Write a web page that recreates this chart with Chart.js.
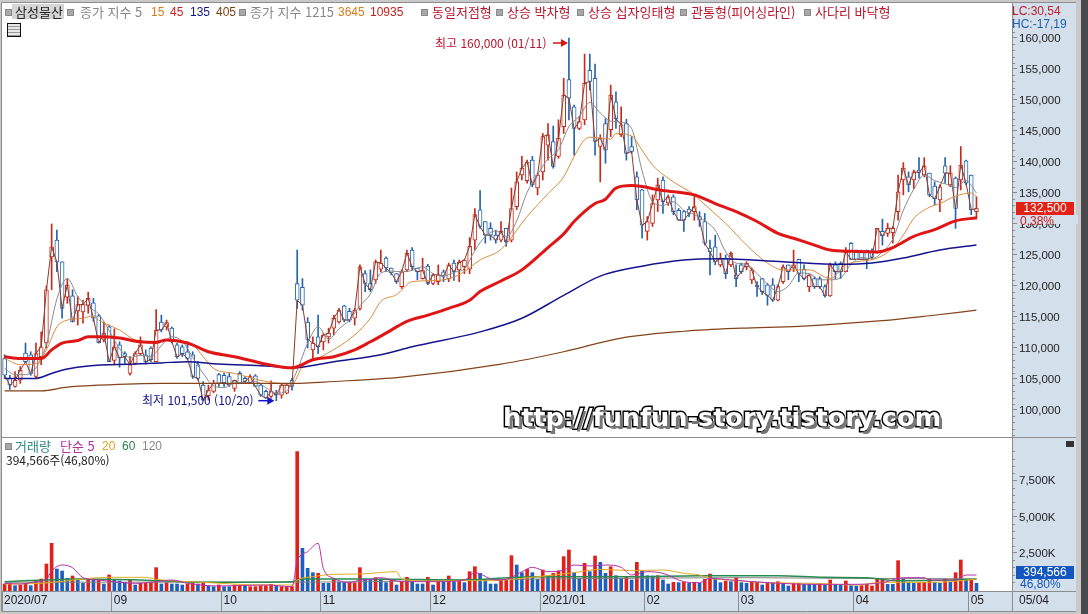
<!DOCTYPE html>
<html lang="ko">
<head>
<meta charset="utf-8">
<title>삼성물산 일봉</title>
<script src="https://cdn.jsdelivr.net/npm/chart.js@4"></script>
<style>
  html, body { margin: 0; padding: 0; width: 1088px; height: 614px; overflow: hidden; background: #c9c9c9; }
  #stage { position: relative; width: 1088px; height: 614px; font: 13px "Noto Sans CJK KR", "Liberation Sans", sans-serif; }
  #stage canvas { position: absolute; left: 0; top: 0; }
  .edge { position: absolute; left: 1081px; top: 0; width: 7px; height: 614px; background: #47494c; }
  .t { position: absolute; white-space: pre; line-height: 14px; height: 14px; }
  .n { font: 12px/14px "Liberation Sans", sans-serif; }
  .sq { position: absolute; width: 5px; height: 5px; background: #a8a8a8; border: 1px solid #8a8a8a; }
  .tag { position: absolute; left: 1016px; width: 58px; height: 13px; line-height: 13px; color: #fff; text-align: center; font: 12px/13px "Liberation Sans", sans-serif; }
  .mark { position: absolute; left: 503px; top: 402px; white-space: pre; font: bold 25.5px "DejaVu Sans", sans-serif; color: #fff;
          -webkit-text-stroke: 3px #000; paint-order: stroke fill; text-shadow: 3px 3px 0 #777; }
  .icon { position: absolute; left: 7px; top: 23px; width: 12px; height: 12px; border: 1px solid #111; background:
          repeating-linear-gradient(0deg, #999 0 1px, #e8e8e8 1px 3px), #ddd; }
  .close { position: absolute; left: 1066px; top: 441px; width: 8px; height: 6px; background: #333; }
</style>
</head>
<body>
<div id="stage">
  <canvas id="chart" width="1088" height="614"></canvas>
  <div class="edge"></div>

  <span class="sq" style="left:5px;top:9px"></span>
  <span class="t" style="left:12px;top:4px;width:52px;height:15px;background:#d6d6d6"></span>
  <span class="t" style="left:15px;top:5px;color:#222">삼성물산</span>
  <span class="sq" style="left:67px;top:9px"></span>
  <span class="t" style="left:80px;top:5px;color:#888">종가 지수 5</span>
  <span class="t n" style="left:151px;top:5px;color:#dd7a18">15</span>
  <span class="t n" style="left:170px;top:5px;color:#c8201e">45</span>
  <span class="t n" style="left:190px;top:5px;color:#14148c">135</span>
  <span class="t n" style="left:216px;top:5px;color:#7d3f12">405</span>
  <span class="sq" style="left:239px;top:9px"></span>
  <span class="t" style="left:250px;top:5px;color:#888">종가 지수 1215</span>
  <span class="t n" style="left:338px;top:5px;color:#dd7a18">3645</span>
  <span class="t n" style="left:370px;top:5px;color:#c8201e">10935</span>
  <span class="sq" style="left:421px;top:9px"></span>
  <span class="t" style="left:432px;top:5px;color:#b8142c">동일저점형</span>
  <span class="sq" style="left:496px;top:9px"></span>
  <span class="t" style="left:507px;top:5px;color:#b8142c">상승 박차형</span>
  <span class="sq" style="left:577px;top:9px"></span>
  <span class="t" style="left:588px;top:5px;color:#b8142c">상승 십자잉태형</span>
  <span class="sq" style="left:680px;top:9px"></span>
  <span class="t" style="left:691px;top:5px;color:#b8142c">관통형(피어싱라인)</span>
  <span class="sq" style="left:804px;top:9px"></span>
  <span class="t" style="left:815px;top:5px;color:#b8142c">사다리 바닥형</span>
  <span class="icon"></span>

  <span class="t" style="left:435px;top:36px;color:#b8142c;font-size:12px">최고 160,000 (01/11)</span>
  <span class="t" style="left:142px;top:393px;color:#14148c;font-size:12px">최저 101,500 (10/20)</span>

  <span class="t n" style="left:1012px;top:4px;color:#c0202c">LC:30,54</span>
  <span class="t n" style="left:1012px;top:17px;color:#2060b0">HC:-17,19</span>

  <span class="sq" style="left:5px;top:443px"></span>
  <span class="t" style="left:15px;top:439px;color:#2e8a80">거래량</span>
  <span class="t" style="left:60px;top:439px;color:#b030a0">단순 5</span>
  <span class="t n" style="left:102px;top:439px;color:#dca620">20</span>
  <span class="t n" style="left:122px;top:439px;color:#2a8050">60</span>
  <span class="t n" style="left:142px;top:439px;color:#888">120</span>
  <span class="t" style="left:6px;top:453px;color:#222;font-size:12px">394,566주(46,80%)</span>
  <span class="close"></span>

  <span class="tag" style="top:202px;background:#e22214">132,500</span>
  <span class="t n" style="left:1020px;top:214px;color:#c8201e">0,38%</span>
  <span class="tag" style="top:566px;background:#1456c0">394,566</span>
  <span class="t n" style="left:1020px;top:577px;color:#1456c0">46,80%</span>
  <span class="t n" style="left:1019px;top:593px;color:#222">05/04</span>

  <span class="mark">http://funfun-story.tistory.com</span>
</div>

<script>
// Daily candles, in thousands of won
const opens = [108.3,105.1,103.8,104.8,109.2,108.9,105.4,108.6,110.8,124.7,127.4,123.9,118.2,118.4,116,115.8,116.9,117.3,115.2,111.3,
  113.4,108,110.5,109.1,105.9,107.5,109.1,108.9,110,107.8,114.2,113.4,113.2,110.5,110.2,109.4,108.9,107.3,104,102.3,
  103,105.7,105.6,105.4,103.5,105.9,105.1,104.4,105.5,104,103,102.2,102.7,102.4,102.7,104.8,120.4,119.8,114.2,109.7,
  111.8,111,111.8,113.2,114.2,116.8,115.9,114.8,116.4,122,120.4,121,122.7,124.5,122.9,122,119.9,122.6,125.8,122.9,
  121.2,123.2,120.4,120.7,122.3,121.2,123.7,122.6,123.1,122.7,127.4,132.3,130.4,129.3,128.2,127.4,129.3,127.4,132.8,137.9,
  137,140.3,135.8,138.4,142.7,143.3,140.9,145.7,153.3,148.9,145.4,146.8,154.8,153.5,142.5,146.2,145.2,149.7,144.4,146.2,
  142.5,137.6,135.5,128.8,130.1,133.9,137.1,133.4,134.4,132.2,132,132.4,132,131.2,130.4,126.1,126.3,123.4,124.5,123.4,
  121.8,123.4,123.1,121,120.1,121.2,120.2,120.2,117.7,120.7,123.4,122.9,124.3,122.7,119.9,121.2,121.2,119.9,118.4,123.4,
  123.6,122.3,126.9,125.5,125.5,125.8,125.5,125.5,128.8,128.5,128.6,132,137.1,137.6,137.1,138.7,137.9,138.2,136.1,133.9,
  139.4,136.3,137.4,137.1,140.2,137.9,132];
const highs = [108.9,105.6,106.2,107,110.8,109.4,110.8,112.6,120,130,129,123.9,121.2,119.4,118.3,117.7,119,118,115.4,114.2,
  113.7,113.1,111,109.4,108.6,109.4,111.8,109.7,110.2,116.2,115.3,114.5,113.4,110.8,110.5,111,109.4,107.8,104.6,104,
  104.8,105.9,105.9,105.9,104.8,106.2,105.4,105.7,105.7,104.3,103.2,104.7,103.2,104.3,104.3,105.1,125.8,121.2,114.9,111.8,
  115.3,112.4,113.2,115.3,116.4,116.9,116.4,116.4,123.4,122.5,122.6,124.2,125.8,124.7,122.9,122,122.6,125.8,126.2,122.9,
  124.5,123.5,122,123.4,122.6,123.7,124.2,124.2,124.3,127.8,132.5,135.4,130.4,130.2,129,130.4,129.3,135.8,138.4,140.9,
  140.3,140.9,138.2,144.6,146.2,145.8,146.8,153.5,160,149.2,147.3,157.4,157.4,155.8,144.4,147,152.4,151.3,148.9,146.9,
  144.1,138.4,135.6,131.2,134.7,137.4,137.6,134.7,134.7,132.5,132.2,132.8,134.7,132,131.7,127.4,128.2,125.3,125,125.5,
  123.4,123.7,123.9,122.9,120.7,121.2,120.4,121.2,120.2,123.4,123.4,125.8,124.3,123.4,121.8,121.5,121.5,120.2,123.7,123.9,
  123.9,126.2,127,125.8,125.8,125.8,126,129.3,130.8,130.1,129.6,137.9,139.9,138.4,138.7,140.7,140.7,138.2,136.8,136.3,
  140.7,139.4,137.6,142.5,140.3,137.9,134.4];
const lows = [105.1,103.3,103.7,104.3,107.6,105.6,105.2,107.3,110,119.4,122.3,114.8,117.2,114.2,113.7,114,115.6,114.3,110.8,111,
  107.8,107.3,106.9,107.5,105.6,107.3,108.9,107.4,107.8,107.8,112.6,112.9,110.8,108.3,108.6,108.1,105.1,104.8,101.6,101.6,
  102.8,103.8,103.8,103.8,103,104.3,104.3,104.3,103.8,102.2,101.9,101.9,101.5,101.9,102.6,103.2,116.4,116.1,110,108.1,
  109.1,109.7,110.8,112.1,114,114.2,114.2,113.7,116.1,119.1,119.1,120.4,122.3,122.3,121.8,120.4,119.6,122.3,122.6,121,
  121.1,120.2,120.2,120.2,120.7,120.7,120.9,120.7,122,122,125.8,129.3,126.9,127.4,126.9,127.1,126.4,127.1,132.3,137.1,
  136.6,136,134.7,137.1,140.3,139,140.6,144.6,146.8,141.1,145.2,146,151.6,141.1,136.8,139.8,144.1,145.4,144.1,140.3,
  141.4,132.3,127.7,127.4,129.6,132,131.7,133,131.5,130.6,128.8,131.2,130.6,129.6,126.6,121.8,123.4,123.1,121.2,123.1,
  119.9,122,122.6,120.4,118.3,118.6,116.9,117.5,117.6,120.4,121,122.3,120.7,121,119.1,119.6,119.6,118.2,118.3,121.2,
  121.2,122.3,124.3,124.3,124.3,122.8,124.3,125.3,126.6,128,126.9,130.6,134.7,135.2,135.7,137.4,137.6,134.4,133.1,132,
  136.6,136,129.3,135.5,136.3,131.5,130.8];
const closes = [105.6,104,104.8,106.4,107.8,105.9,109.1,110.2,119.4,126.3,123.9,116.4,120.2,114.2,117,117,118,114.8,110.8,112.4,
  107.8,110.2,108.4,108.6,107.3,109.1,110.5,107.8,108.1,112.9,112.9,114.1,111,108.6,109.1,108.3,105.4,105.1,101.6,103.2,
  104.3,104.3,104.4,104,104.8,104.3,104.6,105.4,103.8,102.4,101.9,103,102.4,104,104,103.8,117.7,116.9,111.4,110.8,
  110.2,112.1,112.4,114.8,116.1,114.5,114.5,116.1,123.1,120.4,119.4,123.9,123.7,122.9,122.1,120.7,122.3,125.3,123.1,122.3,
  122.5,120.4,121.8,121.8,121.6,123.4,122.3,123.8,124.2,126.4,131.5,129.6,128.2,128.2,127.4,128.8,127.1,132.5,136.8,139,
  140,136.3,137.9,144.1,144.4,139.3,143.8,150.8,150.3,145.4,146.5,152.7,153,143.3,143.8,141.9,150.8,147,146,141.4,
  141.7,133.9,129.8,130.4,133.3,136.3,133.6,134.4,132,130.6,130.6,131.7,132.8,130.6,126.9,125.5,123.9,124.5,122,125.3,
  121.2,122.3,123.7,122.6,119.9,119.1,118.5,117.7,119.9,123.1,122.3,123.4,122,121.2,121.8,119.9,119.9,118.4,123.4,122.3,
  122.3,125.5,124.3,124.3,124.3,124.3,124.6,129.3,128.1,129.3,129.3,135.2,139,136.3,138.4,138.3,139.4,134.7,134.1,136,
  138.2,138.2,132.5,139.5,136.6,132.3,132.5];

// Traded volume, in thousands of shares, with its up/down colour code
const volumes = [345,391,230,276,391,230,575,690,1725,3151,1380,1242,736,897,690,391,690,690,621,345,
  966,621,552,460,621,276,391,391,460,1472,345,437,345,345,276,345,437,345,437,207,
  161,276,161,161,276,276,230,161,161,230,230,322,207,161,161,161,9476,2806,1426,1127,
  1081,391,391,690,460,437,437,437,1472,690,667,782,690,437,621,276,460,805,506,345,
  345,805,276,506,506,897,506,575,437,1196,1541,1081,621,345,345,621,621,2300,1656,1127,
  1357,1127,667,1311,897,1081,1242,2231,2691,1127,736,1771,1196,2277,1840,1081,1541,920,736,805,
  621,1840,1242,920,897,920,621,345,460,437,460,391,460,391,667,1035,667,437,552,506,
  782,437,391,460,460,276,437,391,506,322,207,391,391,322,322,322,322,276,621,322,
  276,552,230,207,230,322,207,667,667,322,322,1955,667,437,391,437,460,690,460,391,
  690,460,1127,2001,621,621,394.566];
const volumeDir = ("RRBRRBRRRRBBBRBBRBRBRBBBRBRRRRBRBBBRRBRBBRBBRRBRRRRRBRRRRBBBRBBRBBRRR" +
  "BBRBBRBRRBBBRBRBRBRBRRBBBBRRRBBRBBRBRRRRBBRBRBBRBBRBRBBBRBBRBRBRBRRBBRBRBBRRBRBR" +
  "BBRRBBBRBRBBRBBRRRRRBBRBBBRRRBBRBRRBRB").split("");

// Price averages as [session, thousand won]
const ma5 = [[0,106.7],[2,105.7],[4,105.7],[6,106.8],[8,110.5],[10,117.9],[12,121.2],[14,118.3],[16,116.6],[18,115.5],[20,112.8],[22,109.9],[24,108.5],[26,108.8],[28,108.6],[30,110.4],[32,111.8],[34,111.1],[36,108.5],[38,105.9],[40,103.9],[42,103.6],[44,104.4],[46,104.4],[48,104.6],[50,103.6],[52,102.7],[54,103.1],[56,106.4],[58,110.8],[60,113.4],[62,111.4],[64,113.1],[66,114.5],[68,116.8],[70,118.7],[72,122.1],[74,122.4],[76,122.3],[78,122.5],[80,123.1],[82,122],[84,121.6],[86,122.2],[88,122.8],[90,125.7],[92,128],[94,128.9],[96,127.9],[98,130.5],[100,135.1],[102,138],[104,140.5],[106,142],[108,145.7],[110,147.4],[112,149.6],[114,147.9],[116,146.6],[118,146.4],[120,145.4],[122,138.6],[124,133.6],[126,133],[128,133.6],[130,132.2],[132,131.5],[134,130.5],[136,129],[138,125.5],[140,123.7],[142,123.5],[144,122],[146,120.3],[148,119.1],[150,120],[152,122.1],[154,122],[156,121],[158,121],[160,121.3],[162,123.5],[164,124.6],[166,124.4],[168,125.5],[170,127.6],[172,132.2],[174,135.6],[176,137.9],[178,137],[180,136.5],[182,135.9],[184,137],[186,135]];
const ma15 = [[0,108.3],[3,107.3],[6,107.5],[8,109.7],[10,113.4],[12,114.5],[15,114.8],[17,115.2],[18,114.5],[22,112.9],[25,111.3],[28,111],[31,111.3],[36,110.5],[38,108.6],[40,106.7],[44,105.9],[50,104.6],[55,104.2],[57,107],[60,108.3],[67,112.1],[70,114.8],[72,117.5],[75,118.6],[78,120.7],[83,120.9],[87,121.8],[91,124.2],[95,125.9],[100,131.2],[104,134.9],[107,137.6],[109,140.9],[111,143.6],[112,144],[116,143.7],[117,144.6],[120,144.2],[122,141.9],[124,139.5],[128,136.8],[132,134.7],[133,133.9],[138,130.1],[142,126.6],[146,123.7],[149,122.6],[154,122.6],[158,121.2],[161,123.4],[167,124.5],[170,126.1],[172,128.2],[174,130.9],[177,132.7],[179,133.3],[182,134.5],[185,135],[186,134.4]];
const ma45 = [[0,108.6],[3,108.3],[7,108.3],[9,109.7],[11,110.8],[14,111.2],[16,111.8],[18,111.8],[22,111.6],[26,111],[29,110.9],[31,111.3],[35,110.8],[39,109.4],[44,108.6],[50,107.4],[55,106.8],[59,108.1],[63,108.6],[67,109.7],[70,111],[73,112.4],[77,114.3],[81,115.3],[85,116.4],[89,117.7],[91,119.1],[95,120.8],[99,122.6],[104,126.2],[107,128.4],[109,130.4],[113,133.3],[115,134],[117,135.8],[120,136.2],[126,135.4],[132,134.7],[136,133.3],[140,132],[144,130.4],[148,128.5],[151,127.7],[155,126.6],[158,125.8],[162,125.6],[167,125.5],[170,126.2],[174,128],[178,129.1],[182,130.5],[186,131]];
const ma135 = [[0,105.1],[6,105.1],[9,105.9],[12,106.6],[16,107.1],[25,107.4],[30,107.6],[35,107.8],[41,107.4],[50,107.1],[55,106.8],[63,107.8],[72,108.9],[78,110.2],[91,112.6],[99,114.8],[107,118.5],[114,121.6],[122,123.2],[130,124.2],[137,124.4],[149,123.9],[160,123.5],[166,123.7],[172,124.5],[179,125.8],[186,126.6]];
const ma405 = [[0,103.1],[7,103.1],[12,103.7],[18,104],[30,104.3],[55,104.3],[63,104.6],[76,105.3],[95,107.4],[107,109.4],[118,111.6],[130,112.7],[141,113.2],[152,113.5],[168,114.4],[177,115.2],[186,116.1]];

// Volume averages as [session, thousand shares]
const vol5 = [[0,391],[3,345],[6,506],[8,690],[9,1242],[11,1656],[13,1472],[15,782],[18,621],[25,391],[29,506],[32,621],[35,391],[41,207],[50,276],[55,161],[56,1932],[58,2576],[60,3151],[61,1426],[63,736],[66,437],[68,621],[70,667],[72,782],[76,506],[83,506],[88,621],[90,1127],[94,621],[96,667],[99,1196],[101,1495],[104,1196],[107,1311],[109,1656],[112,1587],[115,1656],[118,1495],[120,966],[123,1196],[126,1081],[130,506],[133,437],[135,736],[139,621],[146,437],[155,322],[162,322],[168,437],[172,782],[176,782],[177,621],[182,621],[184,966],[186,966]];
const vol20 = [[0,345],[7,391],[15,690],[20,805],[27,805],[29,667],[38,460],[50,276],[55,276],[56,621],[59,851],[63,1012],[68,1035],[75,1196],[76,690],[81,552],[88,575],[94,575],[97,667],[104,920],[109,1127],[114,1357],[120,1265],[126,1311],[130,1081],[133,966],[135,736],[139,621],[146,437],[155,391],[163,276],[168,460],[176,460],[181,506],[186,690]];
const vol60 = [[0,506],[15,690],[26,621],[38,460],[55,506],[57,690],[68,690],[75,667],[88,621],[101,851],[120,851],[133,920],[148,920],[157,805],[165,782],[171,575],[186,667]];
const vol120 = [[0,470],[30,470],[60,480],[80,560],[100,680],[120,740],[140,780],[160,740],[186,700]];

// Month boundaries on the time axis
const monthSessions = [0,21,42,61,82,103,123,141,163,185];
const monthLabels = ["2020/07","09","10","11","12","2021/01","02","03","04","05"];

const sessions = closes.map((_, i) => i);
const priceTicks = [100,105,110,115,120,125,130,135,140,145,150,155,160];
const volumeTicks = [2500,5000,7500];

const CANDLE_UP = "#c52a1c", CANDLE_DOWN = "#2464ae";
const toPoints = pairs => pairs.map(([x, y]) => ({ x, y }));

function lineSet(label, pairs, color, width, axis, order) {
  return { type: "line", label, data: toPoints(pairs), yAxisID: axis, borderColor: color, borderWidth: width,
           pointRadius: 0, cubicInterpolationMode: "monotone", order };
}
function barSet(label, data, axis, color, fill, thickness, order, extra) {
  return Object.assign({ type: "bar", label, data, yAxisID: axis, grouped: false, barThickness: thickness,
    backgroundColor: fill, borderColor: color, borderWidth: 0, order }, extra || {});
}

const candleColors = sessions.map(i => closes[i] >= opens[i] ? CANDLE_UP : CANDLE_DOWN);
const volumeColors = sessions.map(i => volumeDir[i] === "R" ? "#e1201a" : "#1c5fbe");

// Panels, separators, minor axis ticks and the two extreme-price arrows
const chrome = {
  id: "chrome",
  beforeDraw(c) {
    const g = c.ctx, a = c.chartArea;
    g.save();
    g.fillStyle = "#c9c9c9"; g.fillRect(0, 0, 1088, 614);
    g.fillStyle = "#ffffff"; g.fillRect(a.left, a.top, a.right - a.left, a.bottom - a.top);
    g.fillStyle = "#d4dfec";
    g.fillRect(a.right, a.top, 1076 - a.right, a.bottom - a.top);
    g.fillRect(a.left, a.bottom, 1076 - a.left, 20);
    g.restore();
  },
  afterDraw(c) {
    const g = c.ctx, a = c.chartArea, x = c.scales.x, yp = c.scales.y, yv = c.scales.yVol;
    g.save();
    g.strokeStyle = "#8d8d8d"; g.lineWidth = 1;
    const rule = (x0, y0, x1, y1) => { g.beginPath(); g.moveTo(x0, y0); g.lineTo(x1, y1); g.stroke(); };
    rule(1.5, a.top, 1.5, a.bottom + 20);
    rule(1.5, yv.top + 0.5, 1076, yv.top + 0.5);
    rule(1.5, a.top - 0.5, 1076, a.top - 0.5);
    rule(a.right + 0.5, a.top, a.right + 0.5, a.bottom + 20);
    rule(1.5, a.bottom + 0.5, 1076, a.bottom + 0.5);
    rule(1.5, a.bottom + 20.5, 1076, a.bottom + 20.5);

    g.strokeStyle = "#8a8a8a";
    for (let v = 96; v <= 165; v++) {
      if (v % 5 === 0) continue;
      const p = Math.round(yp.getPixelForValue(v)) + 0.5;
      rule(a.right, p, a.right + 3, p);
    }
    for (let v = 500; v <= 10000; v += 500) {
      if (v % 2500 === 0) continue;
      const p = Math.round(yv.getPixelForValue(v)) + 0.5;
      rule(a.right, p, a.right + 3, p);
    }

    const arrow = (x0, x1, y, color) => {
      g.strokeStyle = color; g.fillStyle = color; g.lineWidth = 1.5;
      rule(x0, y, x1 - 5, y);
      g.beginPath(); g.moveTo(x1, y); g.lineTo(x1 - 7, y - 4); g.lineTo(x1 - 7, y + 4); g.closePath(); g.fill();
    };
    const hi = Math.max(...highs), lo = Math.min(...lows);
    const hx = x.getPixelForValue(highs.indexOf(hi)), lx = x.getPixelForValue(lows.indexOf(lo));
    arrow(hx - 16, hx - 1, yp.getPixelForValue(hi) + 5, "#d21818");
    arrow(lx - 18, lx - 2, yp.getPixelForValue(lo), "#1414c8");

    // clears the axis behind the percentage under the price tag
    g.fillStyle = "#d4dfec"; g.fillRect(a.right + 6, 215, 60, 9);
    g.restore();
  }
};

// Axes keep exactly the fixed sizes of the panes, with no room reserved for label overhang
const fixBox = (s, size) => {
  s.paddingTop = 0; s.paddingBottom = 0; s.paddingLeft = 0; s.paddingRight = 0;
  if (s.isHorizontal()) s.height = size; else s.width = size;
};

new Chart(document.getElementById("chart"), {
  data: {
    datasets: [
      lineSet("MA5", ma5, "#8a8a8a", 1, "y", 5),
      lineSet("MA15", ma15, "#d98c3c", 1, "y", 4),
      lineSet("MA135", ma135, "#15148e", 1.5, "y", 3),
      lineSet("MA405", ma405, "#84431a", 1.2, "y", 3),
      lineSet("MA45", ma45, "#e01616", 3, "y", 2),
      { type: "line", label: "Close", data: sessions.map(i => ({ x: i, y: closes[i] })), yAxisID: "y",
        borderColor: "#8c3a2a", borderWidth: 1, pointRadius: 0, order: 6 },
      barSet("Body", sessions.map(i => ({ x: i, y: [opens[i], closes[i]] })), "y", candleColors, "#ffffff", 4, 7,
             { borderWidth: 1, borderSkipped: false }),
      barSet("Range", sessions.map(i => ({ x: i, y: [lows[i], highs[i]] })), "y", candleColors, candleColors, 1, 8),
      lineSet("Vol120", vol120, "#808080", 1, "yVol", 4),
      lineSet("Vol60", vol60, "#2a8a50", 1.5, "yVol", 3),
      lineSet("Vol20", vol20, "#e0ac20", 1, "yVol", 2),
      lineSet("Vol5", vol5, "#b830a8", 1, "yVol", 1),
      barSet("Volume", sessions.map(i => ({ x: i, y: volumes[i] })), "yVol", volumeColors, volumeColors, 3, 9, { base: -138 })
    ]
  },
  options: {
    animation: false,
    responsive: false,
    devicePixelRatio: 1,
    layout: { padding: { left: 2, top: 3, right: 12, bottom: 3 } },
    plugins: { legend: { display: false }, tooltip: { enabled: false } },
    scales: {
      x: {
        type: "linear", offset: false, min: -0.5, max: 192.8, position: "bottom",
        afterBuildTicks: s => { s.ticks = monthSessions.map(v => ({ value: v - 0.5 })); },
        afterFit: s => fixBox(s, 20),
        grid: { offset: false, drawOnChartArea: false, drawTicks: true, tickLength: 20, color: "#8d8d8d" },
        border: { display: false },
        ticks: {
          autoSkip: false, maxRotation: 0, align: "start", padding: -18, labelOffset: 2,
          color: "#222", font: { family: "Liberation Sans", size: 12 },
          callback: (v) => monthLabels[monthSessions.indexOf(v + 0.5)]
        }
      },
      y: {
        position: "right", stack: "panes", stackWeight: 434, weight: 0, min: 95.645, max: 165.645,
        afterBuildTicks: s => { s.ticks = priceTicks.map(v => ({ value: v })); },
        afterFit: s => fixBox(s, 64),
        grid: { drawOnChartArea: false, tickLength: 5, color: "#8a8a8a" },
        border: { display: false },
        ticks: {
          padding: 2, labelOffset: 1, color: "#222", font: { family: "Liberation Sans", size: 11.5 },
          callback: v => (v * 1000).toLocaleString("en-US")
        }
      },
      yVol: {
        position: "right", stack: "panes", stackWeight: 154, weight: 1, min: -138, max: 10488,
        afterBuildTicks: s => { s.ticks = volumeTicks.map(v => ({ value: v })); },
        afterFit: s => fixBox(s, 64),
        grid: { drawOnChartArea: false, tickLength: 5, color: "#8a8a8a" },
        border: { display: false },
        ticks: {
          padding: 2, labelOffset: 1, color: "#222", font: { family: "Liberation Sans", size: 11.5 },
          callback: v => v.toLocaleString("en-US") + "K"
        }
      }
    }
  },
  plugins: [chrome]
});
</script>
</body>
</html>
